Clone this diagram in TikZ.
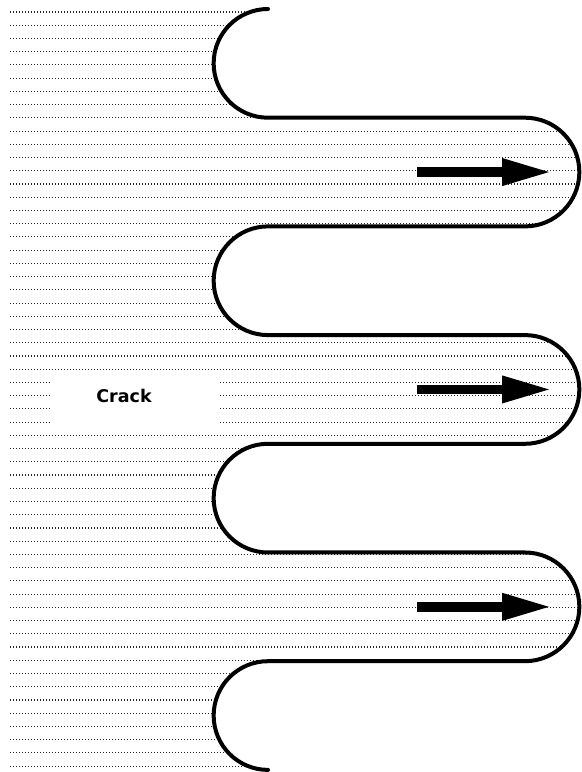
\documentclass[tikz,border=0pt]{standalone}
\usepackage{fontspec}
\setsansfont{DejaVu Sans}
\usetikzlibrary{arrows.meta}

\begin{document}
\begin{tikzpicture}[
    x=1pt, y=1pt,
    hatch/.style={draw=black!85, line width=1.1pt, dash pattern=on 1pt off 2pt},
    wall/.style={draw=black, line width=4pt, line cap=round},
    flow/.style={draw=black, line width=9.5pt, -{Triangle[length=50pt 0 0, width=25pt 0 0]}},
    label/.style={font=\sffamily\bfseries\fontsize{17.5}{17.5}\selectfont}
  ]
  \def\r{54.35}
  % frame
  \fill[white] (0,0) rectangle (581,772);
  % hatched material left of the crack front
  \begin{scope}
    \clip (268,763) arc[start angle=90, end angle=270, radius=\r]
      -- ++(257,0) arc[start angle=90, end angle=-90, radius=\r]
      -- ++(-257,0) arc[start angle=90, end angle=270, radius=\r]
      -- ++(257,0) arc[start angle=90, end angle=-90, radius=\r]
      -- ++(-257,0) arc[start angle=90, end angle=270, radius=\r]
      -- ++(257,0) arc[start angle=90, end angle=-90, radius=\r]
      -- ++(-257,0) arc[start angle=90, end angle=270, radius=\r]
      -- (10,2) -- (10,772) -- (268,772) -- cycle;
    \foreach \i in {0,...,57}
      \draw[hatch] (10,760-13.23*\i) -- (581,760-13.23*\i);
  \end{scope}
  % gap for the label
  \fill[white] (50,349) rectangle (218,402);
  \node[label] (crack) at (124,376) {Crack};
  % crack front
  \draw[wall] (268,763) arc[start angle=90, end angle=270, radius=\r]
    -- ++(257,0) arc[start angle=90, end angle=-90, radius=\r]
    -- ++(-257,0) arc[start angle=90, end angle=270, radius=\r]
    -- ++(257,0) arc[start angle=90, end angle=-90, radius=\r]
    -- ++(-257,0) arc[start angle=90, end angle=270, radius=\r]
    -- ++(257,0) arc[start angle=90, end angle=-90, radius=\r]
    -- ++(-257,0) arc[start angle=90, end angle=270, radius=\r];
  % arrows
  \foreach \k [count=\n] in {1.5,3.5,5.5} {
    \coordinate (tail\n) at (417,763-108.7*\k);
    \coordinate (head\n) at (552,763-108.7*\k);
    \draw[flow] (tail\n) -- (head\n);
  }
\end{tikzpicture}
\end{document}
